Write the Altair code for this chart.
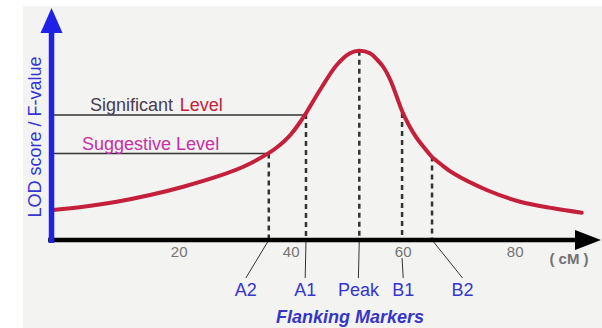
import altair as alt
import pandas as pd

# QTL interval-mapping curve (position in cM, LOD score)
curve_cm = [-2.48, 2.88, 8.84, 14.79, 20.73, 26.7, 31.45, 35.9, 37.3, 38.6,
            40.0, 41.6, 42.77, 45.14, 48.13, 50.5, 52.16, 54.07, 55.4, 56.45,
            57.7, 58.8, 59.8, 61.0, 62.41, 63.8, 65.09, 66.9, 68.95, 74.91,
            80.86, 86.8, 91.88]
curve_lod = [1.5, 1.665, 1.915, 2.25, 2.665, 3.165, 3.665, 4.33, 4.6, 4.9,
             5.3, 5.9, 6.4, 7.5, 8.75, 9.335, 9.465, 9.335, 9.0, 8.65,
             8.0, 7.2, 6.45, 5.75, 5.1, 4.6, 4.17, 3.75, 3.335, 2.5,
             1.915, 1.585, 1.365]

# Threshold levels
significant_lod = 6.25
suggestive_lod = 4.33

# Flanking markers: where they cut the curve and where their labels sit
markers = ["A2", "A1", "Peak", "B1", "B2"]
marker_cm = [36.0, 42.64, 52.16, 59.8, 65.15]
marker_lod = [4.33, 6.3, 9.465, 6.35, 4.17]
label_cm = [31.9, 42.5, 52.0, 60.0, 70.6]
leader_top = [0.0, 0.0, 0.0, -0.9, 0.0]

# Axis ticks
tick_values = [20, 40, 60, 80]

# Extent of the drawn axes (cM / LOD)
y_axis_cm = -2.8
y_axis_bottom, y_axis_top = -0.15, 10.35
x_axis_left, x_axis_right = -3.4, 91.0
y_arrow = (-2.8, 10.975)
x_arrow = (93.0, 0.0)
panel = (-7.9, 95.5, -4.4, 11.7)

FONT = "Liberation Sans, Arial, Helvetica, sans-serif"
xs = alt.Scale(domain=[-12, 95.5], nice=False, zero=False)
ys = alt.Scale(domain=[-4.4, 12.0], nice=False, zero=False)


def X(f="x"):
    return alt.X(f"{f}:Q", scale=xs, axis=None)


def Y(f="y"):
    return alt.Y(f"{f}:Q", scale=ys, axis=None)


def seg_df(x, x2, y, y2):
    return pd.DataFrame({"x": x, "x2": x2, "y": y, "y2": y2})


def segments(df, **mark):
    return alt.Chart(df).mark_rule(**mark).encode(
        x=X(), x2="x2:Q", y=Y(), y2="y2:Q")


def text(df, **mark):
    return alt.Chart(df).mark_text(font=FONT, **mark).encode(
        x=X(), y=Y(), text="t:N")


background = alt.Chart(pd.DataFrame({"x": [panel[0]], "x2": [panel[1]],
                                     "y": [panel[2]], "y2": [panel[3]]})).mark_rect(
    color="#f3f4f1").encode(x=X(), x2="x2:Q", y=Y(), y2="y2:Q")

curve = alt.Chart(pd.DataFrame({"x": curve_cm, "y": curve_lod})).mark_line(
    color="#c41f3b", strokeWidth=4, interpolate="catmull-rom", strokeCap="round"
).encode(x=X(), y=Y(), order="x:Q")

levels = segments(
    seg_df([y_axis_cm, y_axis_cm], [marker_cm[1], marker_cm[0]],
           [significant_lod, suggestive_lod], [significant_lod, suggestive_lod]),
    color="#333333", strokeWidth=1.5)

drops = segments(
    seg_df(marker_cm, marker_cm, marker_lod, [0] * len(markers)),
    color="#333333", strokeWidth=2.5, strokeDash=[5, 4])

leaders = segments(
    seg_df(marker_cm, label_cm, leader_top, [-1.9] * len(markers)),
    color="#333333", strokeWidth=1)

x_axis = segments(seg_df([x_axis_left], [x_axis_right], [0.0], [0.0]),
                  color="#000000", strokeWidth=4.5)
y_axis = segments(seg_df([y_axis_cm], [y_axis_cm], [y_axis_bottom], [y_axis_top]),
                  color="#1f22e6", strokeWidth=5.5)

y_head = alt.Chart(pd.DataFrame({"x": [y_arrow[0]], "y": [y_arrow[1]]})).mark_point(
    shape="M0,-1L0.88,1L-0.88,1Z", size=625, filled=True, opacity=1,
    color="#1f22e6").encode(x=X(), y=Y())
x_head = alt.Chart(pd.DataFrame({"x": [x_arrow[0]], "y": [x_arrow[1]]})).mark_point(
    shape="M1,0L-1,0.76L-1,-0.76Z", size=676, filled=True, opacity=1,
    color="#000000").encode(x=X(), y=Y())

tick_labels = text(pd.DataFrame({"x": tick_values, "y": [-0.85] * 4,
                                 "t": [str(v) for v in tick_values]}),
                   fontSize=15, color="#737373", align="center", baseline="alphabetic")

marker_labels = text(pd.DataFrame({"x": label_cm, "y": [-2.8] * len(markers),
                                   "t": markers}),
                     fontSize=18, color="#3535d0", align="center", baseline="alphabetic")

unit_label = text(pd.DataFrame({"x": [89.6], "y": [-1.2], "t": ["( cM )"]}),
                  fontSize=15, fontWeight="bold", color="#737373",
                  align="center", baseline="alphabetic")

x_title = text(pd.DataFrame({"x": [50.5], "y": [-4.15], "t": ["Flanking Markers"]}),
               fontSize=18, fontWeight="bold", fontStyle="italic", color="#3535c8",
               align="center", baseline="alphabetic")

y_title = text(pd.DataFrame({"x": [-5.6], "y": [5.15], "t": ["LOD score / F-value"]}),
               fontSize=18, color="#3535d6", angle=270, align="center", baseline="middle")

sig_a = text(pd.DataFrame({"x": [4.07], "y": [6.45], "t": ["Significant"]}),
             fontSize=18, color="#4a3b50", align="left", baseline="alphabetic")
sig_b = text(pd.DataFrame({"x": [20.1], "y": [6.45], "t": ["Level"]}),
             fontSize=18, color="#c4203e", align="left", baseline="alphabetic")
sug = text(pd.DataFrame({"x": [2.65], "y": [4.5], "t": ["Suggestive Level"]}),
           fontSize=18, color="#c62fa6", align="left", baseline="alphabetic")

chart = alt.layer(
    background, levels, drops, curve, leaders, x_axis, x_head, y_axis, y_head,
    tick_labels, marker_labels, unit_label, x_title, y_title, sig_a, sig_b, sug
).properties(
    width=602, height=328, padding=0, autosize=alt.AutoSizeParams(type="none"),
    background="#ffffff"
).configure_view(stroke=None, clip=False)

chart.save("out.html", embed_options={"renderer": "svg", "actions": False})
